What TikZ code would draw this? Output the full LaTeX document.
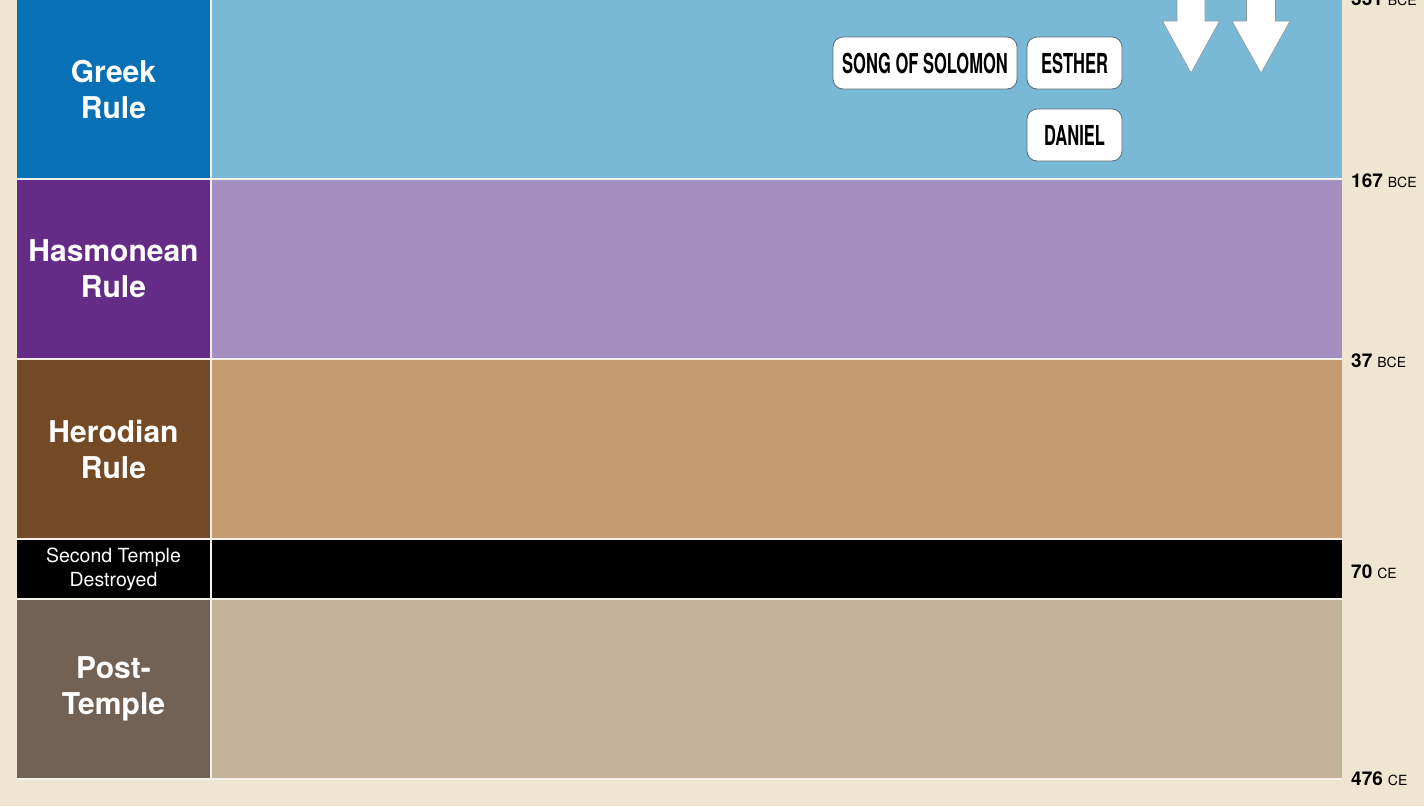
\documentclass[tikz,border=0pt]{standalone}
\usepackage{fontspec}
\setmainfont{TeX Gyre Heros}
\newfontfamily\bookfont[FakeStretch=0.6]{TeX Gyre Heros}
\definecolor{bg}{HTML}{EEE6D0}
\definecolor{greekL}{HTML}{0870B5}
\definecolor{greekM}{HTML}{7AB9D6}
\definecolor{hasL}{HTML}{642C87}
\definecolor{hasM}{HTML}{A390C1}
\definecolor{herL}{HTML}{744A26}
\definecolor{herM}{HTML}{C59C71}
\definecolor{postL}{HTML}{736253}
\definecolor{postM}{HTML}{C5B29B}
\definecolor{sep}{HTML}{F4F1EA}
\definecolor{boxline}{HTML}{5A6A72}
\tikzset{
  cell/.style={anchor=north west, inner sep=0pt, outer sep=0pt, draw=none},
  era/.style={text=white, font=\bfseries\fontsize{30}{36}\selectfont, align=center},
  book/.style={draw=boxline, line width=0.8pt, fill=white, rounded corners=10pt, inner sep=0pt,
    minimum height=52pt, font=\bookfont\bfseries\fontsize{27.5}{27}\selectfont},
  datelbl/.style={anchor=west, inner sep=0pt, text=black},
  bigarrow/.style={fill=white, draw=boxline!70, line width=0.6pt},
}
\newcommand{\dt}[2]{{\bfseries\fontsize{19}{19}\selectfont #1}\hspace{5pt}{\fontsize{14}{14}\selectfont #2}}
\begin{document}
\begin{tikzpicture}[x=1pt,y=-1pt]
\useasboundingbox (0,0) rectangle (1424,806);
\clip (0,0) rectangle (1424,806);
\fill[bg] (0,0) rectangle (1424,806);
\fill[sep] (17,-2) rectangle (1342,780);
% rows
\node[cell, fill=greekL, minimum width=193pt, minimum height=178pt] (gL) at (17,0) {};
\node[cell, fill=greekM, minimum width=1130pt, minimum height=178pt] (gM) at (212,0) {};
\node[cell, fill=hasL, minimum width=193pt, minimum height=178pt] (hL) at (17,180) {};
\node[cell, fill=hasM, minimum width=1130pt, minimum height=178pt] (hM) at (212,180) {};
\node[cell, fill=herL, minimum width=193pt, minimum height=178pt] (rL) at (17,360) {};
\node[cell, fill=herM, minimum width=1130pt, minimum height=178pt] (rM) at (212,360) {};
\node[cell, fill=black, minimum width=193pt, minimum height=58pt] (dL) at (17,540) {};
\node[cell, fill=black, minimum width=1130pt, minimum height=58pt] (dM) at (212,540) {};
\node[cell, fill=postL, minimum width=193pt, minimum height=178pt] (pL) at (17,600) {};
\node[cell, fill=postM, minimum width=1130pt, minimum height=178pt] (pM) at (212,600) {};
% era labels
\node[era] (tG) at ([yshift=-1pt]gL.center) {Greek\\Rule};
\node[era] (tH) at (hL.center) {Hasmonean\\Rule};
\node[era] (tR) at (rL.center) {Herodian\\Rule};
\node[text=white, align=center, font=\fontsize{19.5}{24}\selectfont] (tD) at (dL.center) {Second Temple\\Destroyed};
\node[era] (tP) at (pL.center) {Post-\\Temple};
% books
\node[book, minimum width=184pt] (song) at (925,63) {SONG OF SOLOMON};
\node[book, minimum width=95pt] (esther) at (1074.5,63) {ESTHER};
\node[book, minimum width=95pt] (daniel) at (1074.5,135) {DANIEL};
% arrows
\coordinate (a1) at (1191,73);
\coordinate (a2) at (1261,73);
\draw[bigarrow] ([xshift=-14pt]a1 |- 0,-3) -- ([xshift=-14pt]a1 |- 0,21) -- ([xshift=-28.5pt]a1 |- 0,21) -- (a1)
  -- ([xshift=28.5pt]a1 |- 0,21) -- ([xshift=14pt]a1 |- 0,21) -- ([xshift=14pt]a1 |- 0,-3);
\draw[bigarrow] ([xshift=-14.5pt]a2 |- 0,-3) -- ([xshift=-14.5pt]a2 |- 0,21) -- ([xshift=-29pt]a2 |- 0,21) -- (a2)
  -- ([xshift=29pt]a2 |- 0,21) -- ([xshift=14.5pt]a2 |- 0,21) -- ([xshift=14.5pt]a2 |- 0,-3);
% dates
\node[datelbl] (d331) at (1351,-1) {\dt{331}{BCE}};
\node[datelbl] (d167) at (1351,181) {\dt{167}{BCE}};
\node[datelbl] (d37) at (1351,361) {\dt{37}{BCE}};
\node[datelbl] (d70) at (1351,572) {\dt{70}{CE}};
\node[datelbl] (d476) at (1351,779) {\dt{476}{CE}};
\end{tikzpicture}
\end{document}
